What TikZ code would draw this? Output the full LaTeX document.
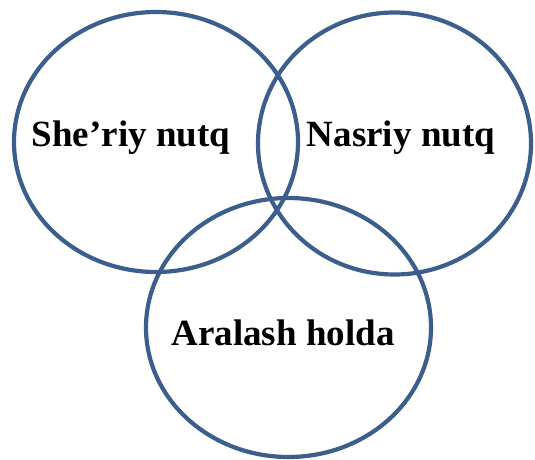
\documentclass[tikz,border=0pt]{standalone}
\usepackage{fontspec}
\setmainfont{Liberation Serif}
\usetikzlibrary{shapes.geometric}
\definecolor{vennline}{RGB}{59, 94, 140}

\begin{document}
\begin{tikzpicture}[x=1pt, y=-1pt,
	venn/.style={ellipse, draw=vennline, line width=4.2pt, inner sep=0pt},
	label/.style={font=\fontsize{37}{44}\selectfont\bfseries, anchor=base, inner sep=0pt}]
	\useasboundingbox (0,0) rectangle (535,460);
	
	\node[venn, minimum width=284pt, minimum height=260pt] (poetic) at (156,142) {};
	\node[venn, minimum width=273pt, minimum height=262pt] (prose) at (394.5,143.5) {};
	\node[venn, minimum width=285pt, minimum height=259pt] (mixed) at (288.5,327.5) {};
	
	\node[label] (poetictext) at (131,146.5) {She’riy nutq};
	\node[label] (prosetext) at (401,146.5) {Nasriy nutq};
	\node[label] (mixedtext) at (283,345) {Aralash holda};
	
\end{tikzpicture}
\end{document}
